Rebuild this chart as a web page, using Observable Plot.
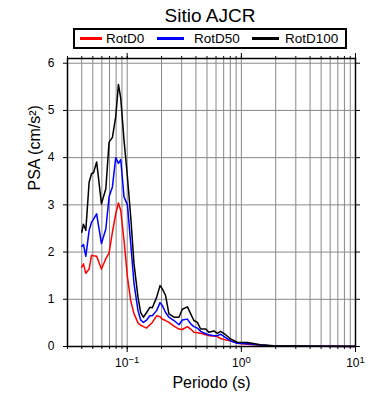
<!DOCTYPE html>
<html><head><meta charset="utf-8">
<script src="https://cdn.jsdelivr.net/npm/d3@7"></script>
<script src="https://cdn.jsdelivr.net/npm/@observablehq/plot@0.6"></script>
<style>
body{margin:0;background:#fff;}
#fig{position:relative;width:390px;height:400px;font-family:"Liberation Sans",Arial,Helvetica,sans-serif;color:#000;overflow:hidden;}
.t{position:absolute;line-height:1;white-space:nowrap;}
.sw{position:absolute;height:3px;}
#box{position:absolute;left:73px;top:28px;width:274px;height:21px;border:2px solid #000;box-sizing:border-box;}
#chart{position:absolute;left:0;top:50px;}
</style></head><body>
<div id="fig">
  <div class="t" style="left:0;width:420px;text-align:center;top:5.6px;font-size:19px">Sitio AJCR</div>
  <div id="box"></div>
  <div id="legend"></div>
  <div id="chart"></div>
</div>
<script>
const seriesNames = ["RotD0", "RotD50", "RotD100"];
const seriesColors = ["#ff0000", "#0000ff", "#000000"];

const periods = [0.04, 0.0414, 0.0434, 0.0464, 0.0487, 0.0507, 0.054, 0.0595, 0.065, 0.0694,
  0.0742, 0.0794, 0.0838, 0.0878, 0.0938, 0.1005, 0.1074, 0.1148, 0.1244, 0.1313,
  0.1386, 0.148, 0.158, 0.166, 0.181, 0.194, 0.203, 0.217, 0.232, 0.257,
  0.284, 0.304, 0.337, 0.36, 0.384, 0.412, 0.44, 0.487, 0.52, 0.575,
  0.615, 0.658, 0.728, 0.805, 0.92, 1.13, 1.47, 1.91, 3, 5, 10];

const rotD0 = [1.68, 1.75, 1.55, 1.64, 1.93, 1.92, 1.91, 1.64, 1.86, 1.98,
  2.42, 2.81, 3.04, 2.88, 2.25, 1.47, 0.97, 0.69, 0.50, 0.45,
  0.42, 0.39, 0.46, 0.51, 0.65, 0.63, 0.58, 0.55, 0.51, 0.43,
  0.37, 0.36, 0.42, 0.37, 0.30, 0.29, 0.28, 0.25, 0.23, 0.22,
  0.21, 0.17, 0.14, 0.12, 0.07, 0.05, 0.025, 0.01, 0.005, 0.003, 0.002];

const rotD50 = [2.12, 2.16, 1.91, 2.46, 2.63, 2.70, 2.81, 2.18, 2.49, 3.17,
  3.38, 4.00, 3.88, 3.96, 3.17, 3.00, 2.18, 1.33, 0.76, 0.56,
  0.51, 0.56, 0.65, 0.65, 0.76, 0.93, 0.87, 0.72, 0.62, 0.55,
  0.46, 0.56, 0.58, 0.48, 0.42, 0.39, 0.32, 0.27, 0.25, 0.23,
  0.23, 0.26, 0.19, 0.12, 0.07, 0.06, 0.03, 0.012, 0.006, 0.004, 0.002];

const rotD100 = [2.42, 2.59, 2.46, 3.48, 3.66, 3.68, 3.91, 3.02, 3.34, 4.33,
  4.43, 4.87, 5.55, 5.26, 4.37, 3.59, 2.74, 1.75, 1.04, 0.72,
  0.62, 0.72, 0.83, 0.82, 1.04, 1.29, 1.22, 1.08, 0.69, 0.62,
  0.62, 0.79, 0.84, 0.69, 0.55, 0.51, 0.37, 0.37, 0.30, 0.33,
  0.28, 0.32, 0.25, 0.16, 0.09, 0.085, 0.036, 0.015, 0.008, 0.005, 0.003];

const gridPeriods = [0.03, 0.04, 0.05, 0.06, 0.07, 0.08, 0.09,
  0.1, 0.2, 0.3, 0.4, 0.5, 0.6, 0.7, 0.8, 0.9,
  1, 2, 3, 4, 5, 6, 7, 8, 9, 10];
const majorPeriods = [0.1, 1, 10];
const majorExponents = ["\u22121", "0", "1"];
const psaTicks = [0, 1, 2, 3, 4, 5, 6];

const seriesValues = [rotD0, rotD50, rotD100];
const rows = seriesNames.flatMap((name, k) =>
  periods.map((p, i) => ({period: p, psa: seriesValues[k][i], series: name})));

// legend (HTML, above the SVG)
const legendItems = [
  {name: "RotD0", sw: [80, 22], tx: 106},
  {name: "RotD50", sw: [157, 27], tx: 194},
  {name: "RotD100", sw: [252, 27], tx: 285}
];
const leg = document.getElementById("legend");
legendItems.forEach((it, k) => {
  const s = document.createElement("div");
  s.className = "sw";
  s.style.left = it.sw[0] + "px"; s.style.width = it.sw[1] + "px"; s.style.top = "37px";
  s.style.background = seriesColors[k];
  leg.appendChild(s);
  const t = document.createElement("div");
  t.className = "t";
  t.style.left = it.tx + "px"; t.style.top = "32px"; t.style.fontSize = "13.5px";
  t.textContent = it.name;
  leg.appendChild(t);
});

const chart = Plot.plot({
  width: 390, height: 350,
  marginTop: 8, marginRight: 35, marginBottom: 54, marginLeft: 67,
  style: {fontFamily: "Liberation Sans, Arial, sans-serif", fontSize: "12px", color: "#000", background: "transparent", overflow: "visible"},
  x: {type: "log", domain: [0.03, 10]},
  y: {domain: [0, 6.1]},
  color: {domain: seriesNames, range: seriesColors},
  marks: [
    Plot.ruleX(gridPeriods, {stroke: "#888", strokeWidth: 1}),
    Plot.ruleY(psaTicks, {stroke: "#888", strokeWidth: 1}),
    Plot.line(rows, {x: "period", y: "psa", z: "series", stroke: "series", strokeWidth: 1.5}),
    Plot.frame({stroke: "#000", strokeWidth: 1.5}),
    Plot.axisX(gridPeriods, {anchor: "bottom", tickSize: 3, tickFormat: () => "", label: null}),
    Plot.axisX(majorPeriods, {anchor: "bottom", tickSize: 6, tickPadding: 6,
      tickFormat: d => "10^" + majorExponents[majorPeriods.indexOf(d)], label: null}),
    Plot.axisX(gridPeriods, {anchor: "top", tickSize: 3, tickFormat: () => "", label: null}),
    Plot.axisX(majorPeriods, {anchor: "top", tickSize: 6, tickFormat: () => "", label: null}),
    Plot.axisY(psaTicks, {anchor: "left", tickSize: 4, tickPadding: 9, label: null}),
    Plot.axisY(psaTicks, {anchor: "right", tickSize: 4, tickFormat: () => "", label: null}),
    Plot.text(["Periodo (s)"], {text: d => d, frameAnchor: "bottom", dy: 36.5, fontSize: 16, lineAnchor: "middle"}),
    Plot.text(["PSA (cm/s\u00b2)"], {text: d => d, frameAnchor: "left", dx: -33, dy: -12, rotate: -90, fontSize: 16, lineAnchor: "middle"})
  ]
});

// superscript exponents on the log-axis labels
const NS = "http://www.w3.org/2000/svg";
chart.querySelectorAll("text").forEach(t => {
  const s = t.textContent;
  if (s.startsWith("10^")) {
    t.textContent = "10";
    const ts = document.createElementNS(NS, "tspan");
    ts.setAttribute("dy", "-0.45em");
    ts.setAttribute("font-size", "9.5");
    ts.textContent = s.slice(3);
    t.appendChild(ts);
  }
});
document.getElementById("chart").appendChild(chart);
</script>
</body></html>
